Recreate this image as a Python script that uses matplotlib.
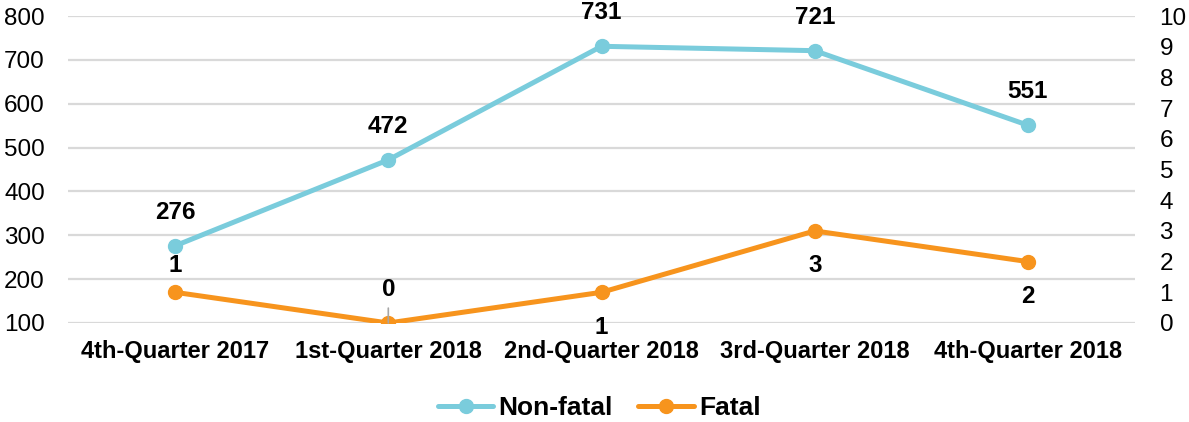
import matplotlib.pyplot as plt

plt.rcParams['font.family'] = ['Liberation Sans', 'DejaVu Sans']

# data
quarters = ["4th-Quarter 2017", "1st-Quarter 2018", "2nd-Quarter 2018",
            "3rd-Quarter 2018", "4th-Quarter 2018"]
non_fatal = [276, 472, 731, 721, 551]
fatal = [1, 0, 1, 3, 2]
fatal_label_above = [True, True, False, False, False]

blue = "#7ACCDC"
orange = "#F7941D"

fig = plt.figure(figsize=(11.89, 4.22), dpi=100)
ax = fig.add_axes([0.0576, 0.2346, 0.8966, 0.7274])
ax2 = ax.twinx()

x = list(range(len(quarters)))

ax.plot(x, non_fatal, color=blue, lw=3.6, marker='o', ms=10, label="Non-fatal",
        solid_capstyle='round', zorder=3)
ax2.plot(x, fatal, color=orange, lw=3.6, marker='o', ms=10, label="Fatal",
         solid_capstyle='round', zorder=3)

ax.set_xlim(-0.5, len(quarters) - 0.5)
ax.set_ylim(100, 800)
ax.set_yticks(range(100, 801, 100))
ax2.set_ylim(0, 10)
ax2.set_yticks(range(0, 11))

ax.grid(axis='y', color='#D9D9D9', lw=1.6)
ax.set_axisbelow(True)
for a in (ax, ax2):
    for s in a.spines.values():
        s.set_visible(False)
    a.tick_params(length=0, labelsize=17.5, colors='black')
ax.tick_params(axis='y', pad=17)
ax2.tick_params(axis='y', pad=18)
ax.set_xticks(x)
ax.set_xticklabels(quarters, fontsize=17, fontweight='bold')
ax.tick_params(axis='x', pad=12)

# value labels
for xi, v in zip(x, non_fatal):
    ax.annotate(str(v), (xi, v), xytext=(0, 24), textcoords='offset points',
                ha='center', va='center', fontsize=17.5, fontweight='bold')
for xi, v, up in zip(x, fatal, fatal_label_above):
    if v == 0:
        ax2.annotate(str(v), (xi, v), xytext=(0, 24), textcoords='offset points',
                     ha='center', va='center', fontsize=17.5, fontweight='bold',
                     arrowprops=dict(arrowstyle='-', color='#A6A6A6', lw=1.2,
                                     shrinkA=3, shrinkB=0))
    else:
        dy = 19 if up else -25
        ax2.annotate(str(v), (xi, v), xytext=(0, dy), textcoords='offset points',
                     ha='center', va='center', fontsize=17.5, fontweight='bold')

h1, l1 = ax.get_legend_handles_labels()
h2, l2 = ax2.get_legend_handles_labels()
fig.legend(h1 + h2, l1 + l2, loc='lower center', bbox_to_anchor=(0.504, -0.052),
           ncol=2, frameon=False, prop={'size': 19, 'weight': 'bold'},
           handlelength=2.1, handletextpad=0.2, columnspacing=0.95)

fig.savefig("out.png", dpi=100)
